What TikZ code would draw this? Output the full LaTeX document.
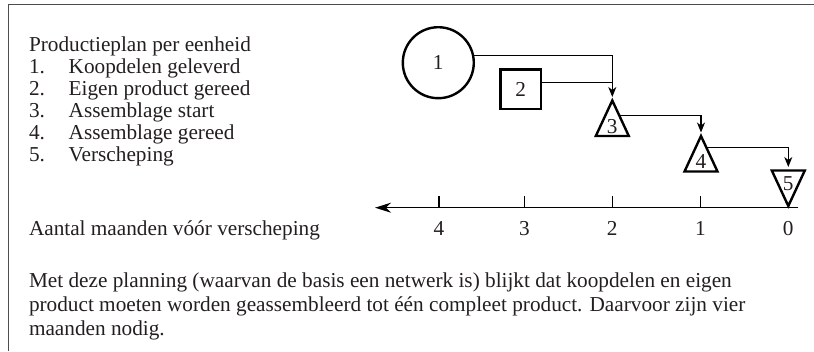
\documentclass[tikz,border=0pt]{standalone}
\usepackage{fontspec}
\setmainfont{Liberation Serif}
\usetikzlibrary{shapes.geometric,arrows.meta,calc}
\definecolor{ink}{HTML}{231F20}
\definecolor{rulegray}{HTML}{4D4D4D}

\begin{document}
\begin{tikzpicture}[x=1pt,y=-1pt,
  txt/.style={inner sep=0pt, outer sep=0pt, anchor=base west, text=ink,
    font=\fontsize{21.25}{21.85}\selectfont},
  num/.style={inner sep=0pt, outer sep=0pt, text=ink,
    font=\fontsize{21.25}{21.85}\selectfont},
  shapeline/.style={draw=black, line width=2.4pt, inner sep=0pt, outer sep=0pt,
    text=ink, font=\fontsize{21.25}{21.85}\selectfont},
  circ/.style={shapeline, circle, minimum size=71pt},
  sq/.style={shapeline, rectangle, minimum width=40.6pt, minimum height=39.6pt},
  tri/.style={shapeline, isosceles triangle, isosceles triangle stretches,
    shape border rotate=90, minimum width=33pt, minimum height=35.5pt},
  link/.style={draw=black, line width=1.1pt},
  conn/.style={link, shorten >=3.5pt, -{Stealth[length=10pt,width=8pt,inset=3pt]}},
  axisline/.style={draw=black, line width=1.5pt, -{Stealth[length=16pt,width=10pt,inset=5pt]}},
  tickline/.style={draw=black, line width=1.1pt},
  frameline/.style={draw=rulegray, line width=1.3pt}
]
\useasboundingbox (0,0) rectangle (814,351);

% frame: top and left rules
\coordinate (fb) at (8.3,351);
\coordinate (ft) at (8.3,4.7);
\coordinate (fr) at (814,4.7);
\draw[frameline] (fb) -- (ft) -- (fr);

% legend
\node[txt] (hd) at (29,51.5) {Productieplan per eenheid};
\node[txt] (i1) at (29,73.4) {\makebox[39.7pt][l]{1.}Koopdelen geleverd};
\node[txt] (i2) at (29,95.3) {\makebox[39.7pt][l]{2.}Eigen product gereed};
\node[txt] (i3) at (29,117.2) {\makebox[39.7pt][l]{3.}Assemblage start};
\node[txt] (i4) at (29,139.1) {\makebox[39.7pt][l]{4.}Assemblage gereed};
\node[txt] (i5) at (29,161.0) {\makebox[39.7pt][l]{5.}Verscheping};

% network
\node[circ] (n1) at (438.3,62.7) {1};
\node[sq] (n2) at (520.8,89.2) {2};
\node[tri, anchor=apex] (n3) at (612.3,100.5) {};
\node[tri, anchor=apex] (n4) at (701,136) {};
\node[tri, shape border rotate=270, anchor=apex] (n5) at (788.3,206) {};
\node[num] (n3t) at ([yshift=9.5pt]n3.lower side) {3};
\node[num] (n4t) at ([yshift=9.5pt]n4.lower side) {4};
\node[num] (n5t) at ([yshift=-12.8pt]n5.lower side) {5};

\coordinate (j2) at ([yshift=6.9pt]n2.east);
\coordinate (s3) at ($(n3.apex)!0.42!(n3.right corner)$);
\coordinate (s4) at ($(n4.apex)!0.32!(n4.right corner)$);
\draw[conn] (n1.12) -| (n3.apex);
\draw[link] (j2) -- (j2 -| n3.apex);
\draw[conn] (s3) -| (n4.apex);
\draw[conn] (s4) -| (n5.lower side);

% time axis
\coordinate (axr) at (798,207.7);
\coordinate (axl) at (375,207.7);
\draw[axisline] (axr) -- (axl);
\foreach \m/\x in {4/439,3/524.5,2/612.3,1/700.5} {
  \coordinate (tk\m) at (\x,207.7);
  \draw[tickline] (tk\m) -- ++(0,-11.7);
}
\foreach \m/\x in {4/439,3/524.5,2/612.3,1/700.5,0/788.3} {
  \node[num, anchor=base] (lb\m) at (\x,235) {\m};
}
\node[txt] (axt) at (29,235) {Aantal maanden vóór verscheping};

% explanation
\node[txt] (p1) at (29,287.3) {Met deze planning (waarvan de basis een netwerk is) blijkt dat koopdelen en eigen};
\node[txt] (p2) at (29,311.7) {product moeten worden geassembleerd tot één compleet product. Daarvoor zijn vier};
\node[txt] (p3) at (29,335.7) {maanden nodig.};
\end{tikzpicture}
\end{document}
